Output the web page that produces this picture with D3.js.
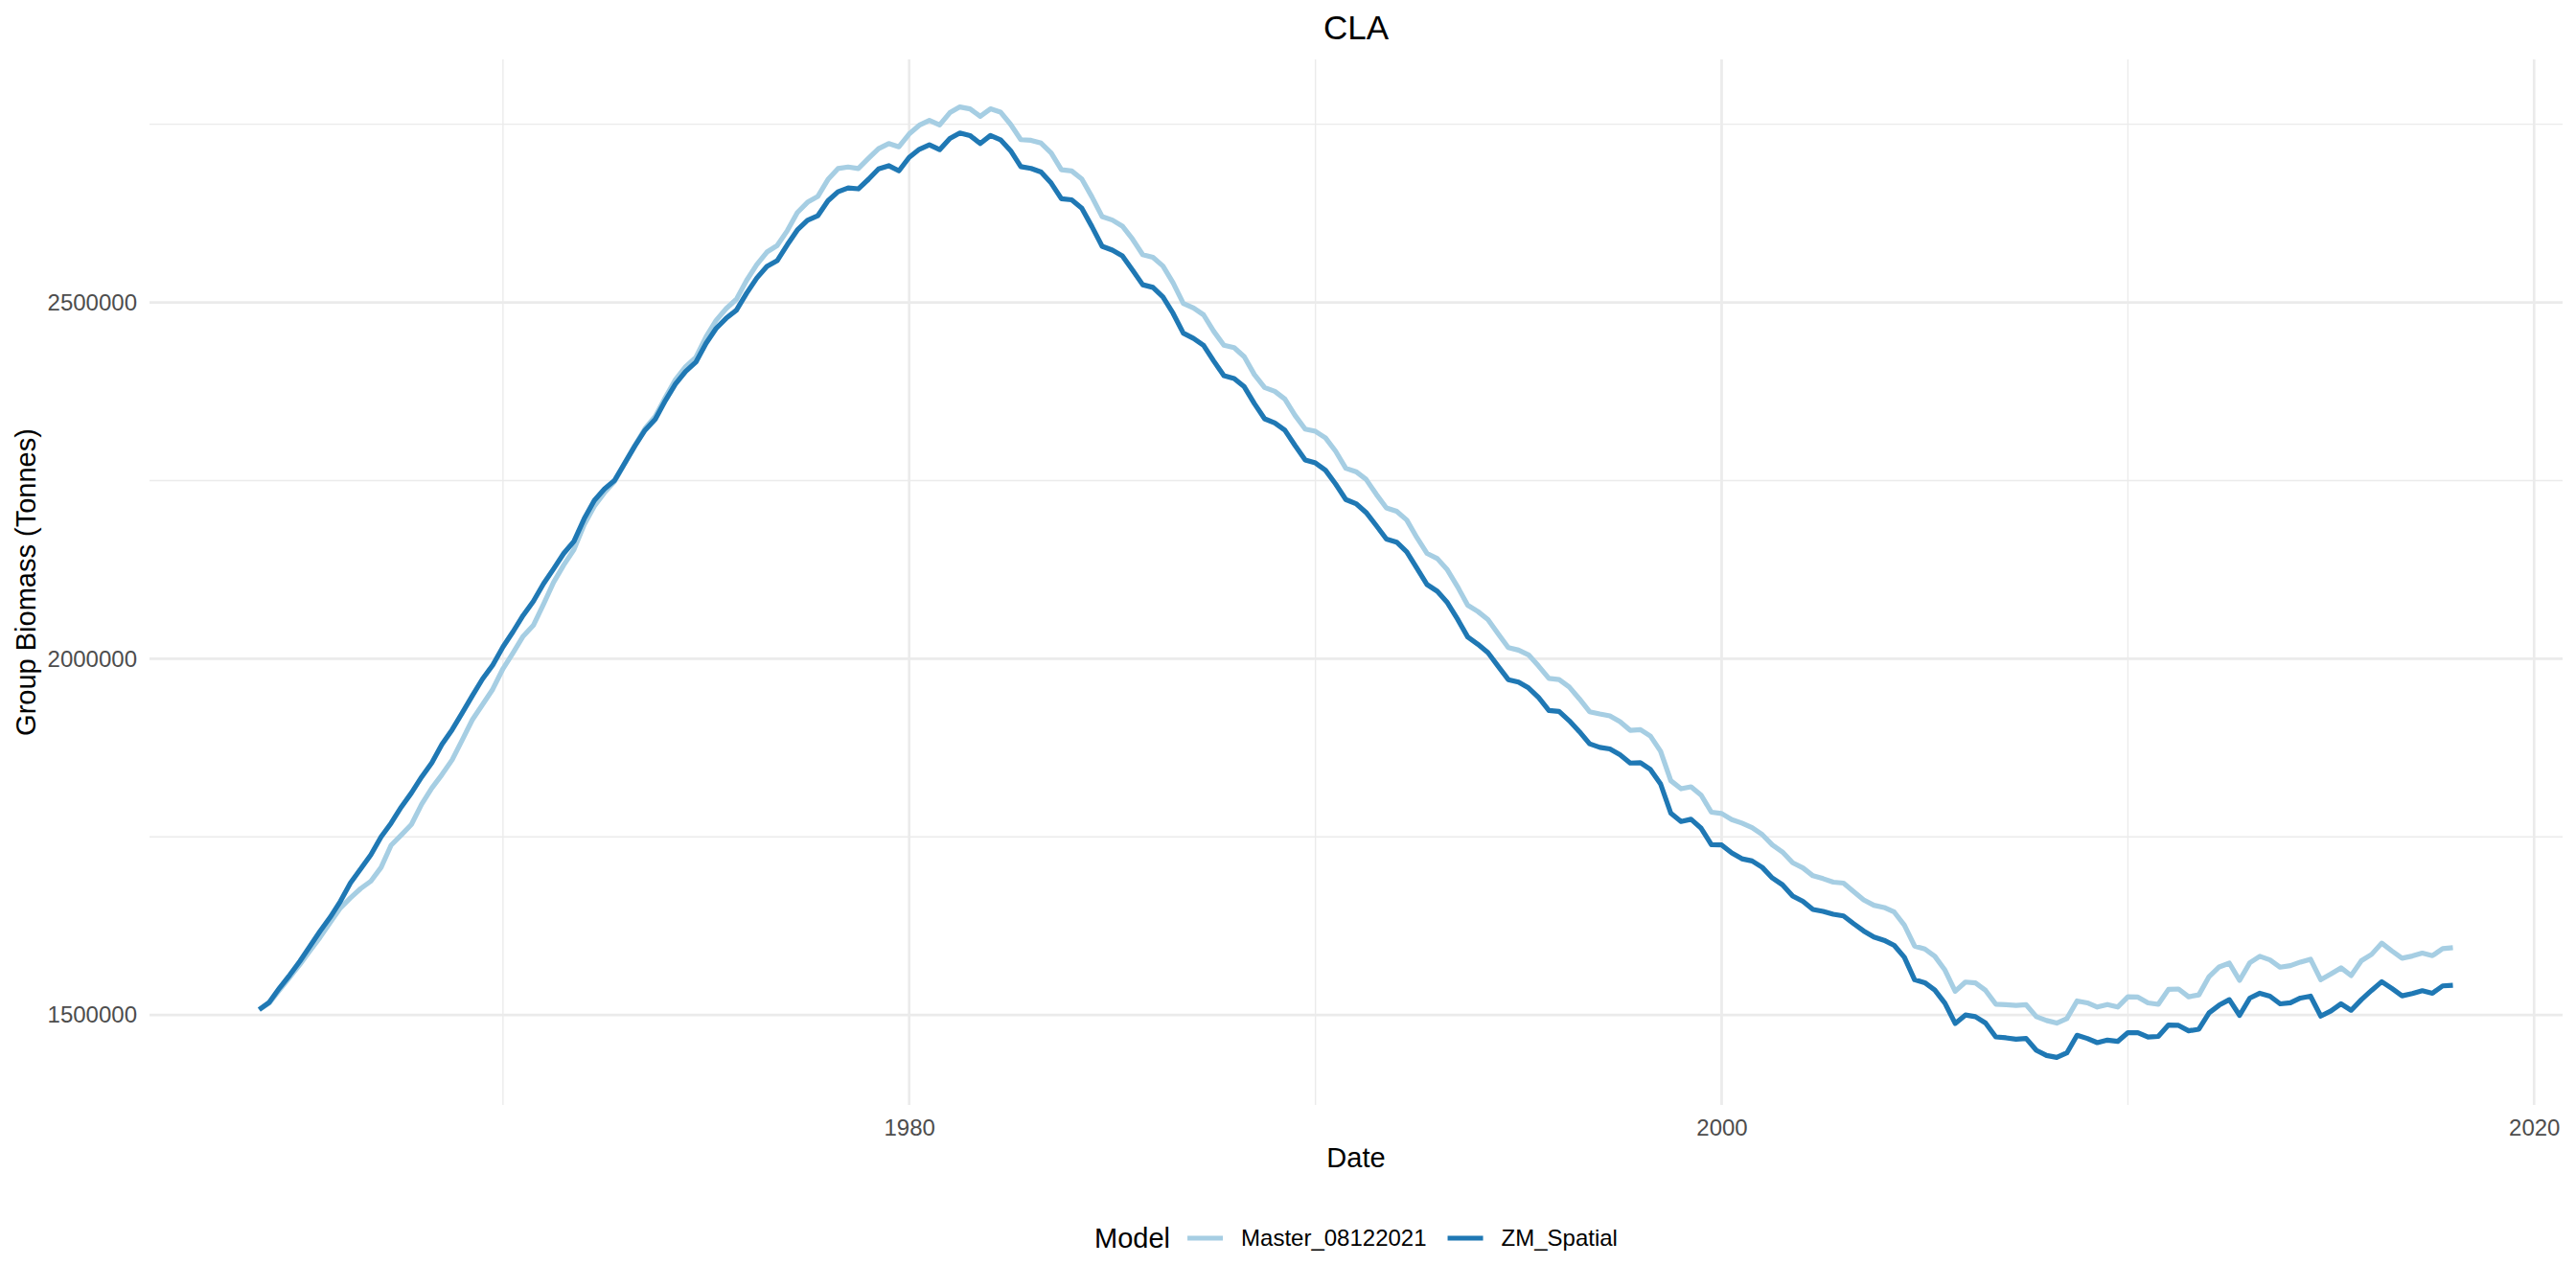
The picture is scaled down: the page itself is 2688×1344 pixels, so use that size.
<!DOCTYPE html>
<meta charset="utf-8">
<title>CLA</title>
<style>
body { margin: 0; background: #fff; }
svg text { font-family: "Liberation Sans", Arial, sans-serif; }
</style>
<body>
<script src="https://d3js.org/d3.v7.min.js"></script>
<script>

// model output is quarterly, starting Jan 1964
var firstDate = "1964-01-01";
var stepMonths = 3;

var models = ["Master_08122021", "ZM_Spatial"];

var xMajor = [1980, 2000, 2020];
var xMinor = [1970, 1990, 2010];
var yMajor = [1500000, 2000000, 2500000];
var yMinor = [1750000, 2250000, 2750000];

// Group biomass (tonnes)
var master = [
  1507600, 1517000, 1535000, 1553000, 1571000, 1590000, 1609000, 1630100, 1650400, 1664400, 1677400, 1687800,
  1707200, 1738200, 1752600, 1767500, 1795900, 1818400, 1837300, 1858100, 1886400, 1914400, 1935600, 1957200,
  1986000, 2008100, 2031500, 2046800, 2076600, 2107200, 2131500, 2153100, 2188000, 2214000, 2233000, 2249000,
  2275000, 2299400, 2322900, 2340000, 2367000, 2391800, 2409800, 2422900, 2451700, 2474700, 2491400, 2504400,
  2531000, 2553100, 2570600, 2579700, 2600800, 2626100, 2640500, 2648600, 2672500, 2687800, 2690000, 2687800,
  2702200, 2715700, 2722900, 2718400, 2736400, 2748600, 2755300, 2749000, 2766200, 2774300, 2771600, 2761200,
  2771600, 2767100, 2749900, 2728400, 2727500, 2723500, 2709700, 2686100, 2684500, 2673300, 2648200, 2620400,
  2615600, 2607100, 2588900, 2567000, 2563300, 2551000, 2527500, 2498600, 2492200, 2482600, 2459600, 2439800,
  2436600, 2423800, 2398700, 2380500, 2375200, 2364500, 2341500, 2322300, 2319100, 2310000, 2291300, 2267300,
  2262500, 2251800, 2231000, 2211700, 2206900, 2194600, 2170000, 2147700, 2140500, 2124800, 2101300, 2075200,
  2066200, 2054900, 2035100, 2015700, 2012100, 2005400, 1989600, 1972500, 1970700, 1960300, 1943700, 1925600,
  1922500, 1919800, 1911700, 1899500, 1900400, 1891400, 1870200, 1828800, 1817500, 1820200, 1808500, 1784600,
  1782800, 1774300, 1769300, 1763000, 1753100, 1738700, 1728800, 1713700, 1706500, 1695400, 1691400, 1686500,
  1685100, 1673400, 1661700, 1654000, 1650900, 1644500, 1626100, 1596800, 1592700, 1582400, 1563000, 1533300,
  1546300, 1545000, 1534600, 1515300, 1514400, 1513500, 1514400, 1497700, 1492300, 1488700, 1495000, 1519800,
  1517100, 1511200, 1514800, 1511200, 1525600, 1525200, 1517000, 1515000, 1536000, 1536500, 1525600, 1528300,
  1554000, 1567500, 1572900, 1548600, 1573400, 1582400, 1577400, 1567100, 1569300, 1574300, 1578300, 1549500,
  1557600, 1566200, 1555400, 1576100, 1585100, 1600900, 1590000, 1579700, 1582800, 1586900, 1583300, 1593200,
  1594500
];

var zmSpatial = [
  1507600, 1518000, 1537800, 1556000, 1575600, 1596300, 1617500, 1637300, 1659800, 1685500, 1704900, 1724700,
  1750000, 1769300, 1791800, 1811700, 1834200, 1854000, 1879700, 1900400, 1924300, 1948200, 1971600, 1991000,
  2016600, 2037800, 2060800, 2080600, 2105400, 2126100, 2147700, 2164800, 2196400, 2222000, 2238200, 2250400,
  2274700, 2298500, 2320600, 2336000, 2362500, 2385500, 2403000, 2416100, 2442700, 2463400, 2477800, 2489100,
  2513000, 2534200, 2550400, 2558500, 2581000, 2601700, 2615300, 2621500, 2642700, 2655300, 2660700, 2659400,
  2672900, 2687300, 2691800, 2684600, 2703500, 2714800, 2721100, 2714300, 2730100, 2737800, 2734200, 2722900,
  2734200, 2728300, 2713000, 2690500, 2688000, 2683000, 2667400, 2645500, 2644000, 2632200, 2606500, 2578800,
  2573400, 2565400, 2545600, 2524800, 2521100, 2507700, 2484700, 2456900, 2449500, 2439800, 2417900, 2397100,
  2393300, 2381600, 2358100, 2336700, 2330800, 2320700, 2299300, 2279000, 2274700, 2264600, 2245300, 2223400,
  2217600, 2205300, 2187100, 2167900, 2163600, 2150000, 2127000, 2104000, 2094600, 2078800, 2055800, 2030600,
  2020200, 2008500, 1989600, 1970700, 1967100, 1959000, 1945500, 1927400, 1926100, 1913000, 1897700, 1880600,
  1875600, 1873400, 1865300, 1853600, 1854000, 1844600, 1824300, 1783300, 1771600, 1774700, 1762100, 1739100,
  1738700, 1727400, 1719300, 1716200, 1707100, 1692300, 1682800, 1667000, 1659500, 1648100, 1645400, 1641400,
  1639100, 1628300, 1618000, 1609400, 1604900, 1597700, 1581000, 1549500, 1545400, 1535100, 1516600, 1488200,
  1500000, 1497700, 1488700, 1469300, 1468000, 1466200, 1467100, 1450400, 1443200, 1440500, 1446800, 1471600,
  1467100, 1461200, 1464800, 1463000, 1475200, 1475200, 1469000, 1470000, 1486000, 1485500, 1477900, 1480100,
  1503100, 1513900, 1521600, 1499500, 1523800, 1530600, 1526500, 1515700, 1517100, 1523800, 1526500, 1498600,
  1505800, 1515700, 1506700, 1521600, 1534600, 1546800, 1537300, 1527000, 1530100, 1534200, 1530600, 1540900,
  1541800
];

var width = 2688,
    height = 1344,
    margin = {top: 62, right: 14, bottom: 191, left: 156};

var parse = d3.timeParse("%Y-%m-%d");
var start = parse(firstDate);
var dates = master.map(function(d, i) { return d3.timeMonth.offset(start, i * stepMonths); });

var series = [
  {name: models[0], values: master},
  {name: models[1], values: zmSpatial}
];

var color = d3.scaleOrdinal()
    .domain(models)
    .range(["#a6cee3", "#1f78b4"]);

var lineWidth = 5.2;

// ggplot style 5% expansion on both axes
function expand(ext) {
  var pad = (ext[1] - ext[0]) * 0.05;
  return [ext[0] - pad, +ext[1] + pad];
}

var xExt = d3.extent(dates);
var x = d3.scaleTime()
    .domain(expand([+xExt[0], +xExt[1]]).map(function(v) { return new Date(v); }))
    .range([margin.left, width - margin.right]);

var y = d3.scaleLinear()
    .domain(expand(d3.extent(master.concat(zmSpatial))))
    .range([height - margin.bottom, margin.top]);

function yr(v) { return new Date(v, 0, 1); }

var svg = d3.select("body").append("svg")
    .attr("width", width)
    .attr("height", height);

svg.append("rect")
    .attr("width", width)
    .attr("height", height)
    .attr("fill", "#fff");

var grid = svg.append("g");

// minor grid first, then major
grid.selectAll("line.ymin").data(yMinor).enter().append("line")
    .attr("x1", margin.left).attr("x2", width - margin.right)
    .attr("y1", function(d) { return y(d); }).attr("y2", function(d) { return y(d); })
    .attr("stroke", "#ebebeb").attr("stroke-width", 1.4);

grid.selectAll("line.xmin").data(xMinor).enter().append("line")
    .attr("y1", margin.top).attr("y2", height - margin.bottom)
    .attr("x1", function(d) { return x(yr(d)); }).attr("x2", function(d) { return x(yr(d)); })
    .attr("stroke", "#ebebeb").attr("stroke-width", 1.4);

grid.selectAll("line.ymaj").data(yMajor).enter().append("line")
    .attr("x1", margin.left).attr("x2", width - margin.right)
    .attr("y1", function(d) { return y(d); }).attr("y2", function(d) { return y(d); })
    .attr("stroke", "#ebebeb").attr("stroke-width", 2.7);

grid.selectAll("line.xmaj").data(xMajor).enter().append("line")
    .attr("y1", margin.top).attr("y2", height - margin.bottom)
    .attr("x1", function(d) { return x(yr(d)); }).attr("x2", function(d) { return x(yr(d)); })
    .attr("stroke", "#ebebeb").attr("stroke-width", 2.7);

// axes: labels only
var xAxis = svg.append("g")
    .attr("transform", "translate(0," + (height - margin.bottom) + ")")
    .call(d3.axisBottom(x)
      .tickValues(xMajor.map(yr))
      .tickFormat(d3.timeFormat("%Y"))
      .tickSize(0)
      .tickPadding(15));

var yAxis = svg.append("g")
    .attr("transform", "translate(" + margin.left + ",0)")
    .call(d3.axisLeft(y)
      .tickValues(yMajor)
      .tickFormat(d3.format("d"))
      .tickSize(0)
      .tickPadding(13));

[xAxis, yAxis].forEach(function(a) {
  a.select(".domain").remove();
  a.selectAll("text")
    .attr("fill", "#4d4d4d")
    .style("font-size", "24px");
});

var line = d3.line()
    .x(function(d, i) { return x(dates[i]); })
    .y(function(d) { return y(d); });

svg.selectAll("path.series")
    .data(series)
    .enter().append("path")
    .attr("class", "series")
    .attr("d", function(s) { return line(s.values); })
    .attr("fill", "none")
    .attr("stroke", function(s) { return color(s.name); })
    .attr("stroke-width", lineWidth)
    .attr("stroke-linejoin", "round");

var midX = (margin.left + width - margin.right) / 2;

svg.append("text")
    .attr("x", midX)
    .attr("y", 29)
    .attr("dy", "0.35em")
    .attr("text-anchor", "middle")
    .style("font-size", "35px")
    .text("CLA");

svg.append("text")
    .attr("x", midX)
    .attr("y", 1208)
    .attr("dy", "0.35em")
    .attr("text-anchor", "middle")
    .style("font-size", "29px")
    .text("Date");

svg.append("text")
    .attr("transform", "translate(27," + ((margin.top + height - margin.bottom) / 2) + ") rotate(-90)")
    .attr("dy", "0.35em")
    .attr("text-anchor", "middle")
    .style("font-size", "29px")
    .text("Group Biomass (Tonnes)");

// legend along the bottom, centred
var legend = svg.append("g").attr("transform", "translate(0,1292)");

var lt = legend.append("text")
    .attr("dy", "0.35em")
    .style("font-size", "29px")
    .text("Model");

var pos = lt.node().getComputedTextLength() + 18;
series.forEach(function(s, i) {
  legend.append("line")
    .attr("x1", pos).attr("x2", pos + 37)
    .attr("y1", 0).attr("y2", 0)
    .attr("stroke", color(s.name))
    .attr("stroke-width", lineWidth);
  pos += 37 + 19;
  var t = legend.append("text")
    .attr("x", pos)
    .attr("dy", "0.35em")
    .style("font-size", "24px")
    .text(s.name);
  pos += t.node().getComputedTextLength() + (i < series.length - 1 ? 22 : 0);
});

legend.attr("transform", "translate(" + (midX - pos / 2) + ",1292)");

</script>
